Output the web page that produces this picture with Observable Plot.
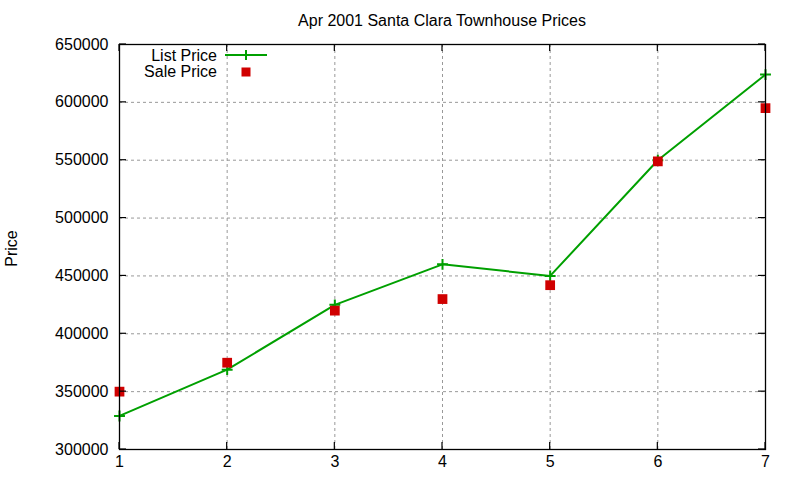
<!DOCTYPE html>
<html>
<head>
<meta charset="utf-8">
<script src="https://cdn.jsdelivr.net/npm/d3@7"></script>
<script src="https://cdn.jsdelivr.net/npm/@observablehq/plot@0.6"></script>
<style>
  html, body { margin: 0; padding: 0; background: #fff; }
  #chart { position: relative; width: 800px; height: 480px; }
  svg { font-family: "Liberation Sans", Arial, sans-serif; }
</style>
</head>
<body>
<div id="chart"></div>
<script>
const title = "Apr 2001 Santa Clara Townhouse Prices";
const yLabel = "Price";
const months = [1, 2, 3, 4, 5, 6, 7];
const listPrice = [329000, 369000, 425000, 460000, 450000, 550000, 624000];
const salePrice = [350000, 375000, 420000, 430000, 442000, 549000, 595000];
const xTicks = [1, 2, 3, 4, 5, 6, 7];
const yTicks = [300000, 350000, 400000, 450000, 500000, 550000, 600000, 650000];
const seriesNames = ["List Price", "Sale Price"];

const listData = months.map((m, i) => ({x: m, y: listPrice[i]}));
const saleData = months.map((m, i) => ({x: m, y: salePrice[i]}));

const green = "#00a000";
const red = "#d00000";

const plot = Plot.plot({
  width: 800,
  height: 480,
  marginLeft: 119,
  marginRight: 35,
  marginTop: 44,
  marginBottom: 31,
  style: {fontFamily: "Liberation Sans, Arial, sans-serif", fontSize: "16px", background: "#fff", color: "#000"},
  x: {domain: [1, 7], ticks: xTicks, label: null},
  y: {domain: [300000, 650000], ticks: yTicks, label: null},
  marks: [
    Plot.gridX(xTicks, {stroke: "#999", strokeOpacity: 1, strokeDasharray: "3,3", strokeWidth: 1}),
    Plot.gridY(yTicks, {stroke: "#999", strokeOpacity: 1, strokeDasharray: "3,3", strokeWidth: 1}),
    Plot.axisX(xTicks, {anchor: "bottom", tickSize: 0, tickPadding: 6, label: null, fontSize: 16, tickFormat: d => String(d)}),
    Plot.axisY(yTicks, {anchor: "left", tickSize: 0, tickPadding: 11, label: null, fontSize: 16, tickFormat: d => String(d)}),
    Plot.line(listData, {x: "x", y: "y", stroke: green, strokeWidth: 2}),
    Plot.dot(listData, {x: "x", y: "y", symbol: "plus", r: 3.6, stroke: green, strokeWidth: 2}),
    Plot.dot(saleData, {x: "x", y: "y", symbol: "square", r: 5.5, fill: red, stroke: "none"}),
    Plot.frame({stroke: "#000", strokeWidth: 1.3})
  ]
});

document.getElementById("chart").appendChild(plot);

// Post-process: inward mirrored ticks, title, y label, legend
const svg = d3.select(plot);
const xs = plot.scale("x"), ys = plot.scale("y");
const x0 = xs.apply(1), x1 = xs.apply(7);
const y0 = ys.apply(300000), y1 = ys.apply(650000);
const tg = svg.append("g").attr("stroke", "#000").attr("stroke-width", 1.2);
yTicks.forEach(v => {
  const y = ys.apply(v);
  tg.append("line").attr("x1", x0).attr("x2", x0 + 7).attr("y1", y).attr("y2", y);
  tg.append("line").attr("x1", x1).attr("x2", x1 - 7).attr("y1", y).attr("y2", y);
});
xTicks.forEach(v => {
  const x = xs.apply(v);
  tg.append("line").attr("x1", x).attr("x2", x).attr("y1", y0).attr("y2", y0 - 7);
  tg.append("line").attr("x1", x).attr("x2", x).attr("y1", y1).attr("y2", y1 + 7);
});

svg.append("text").attr("x", (x0 + x1) / 2).attr("y", 26)
  .attr("text-anchor", "middle").attr("font-size", 16).attr("fill", "#000").text(title);
svg.append("text").attr("transform", `translate(17,${(y0 + y1) / 2 + 2}) rotate(-90)`)
  .attr("text-anchor", "middle").attr("font-size", 16).attr("fill", "#000").text(yLabel);

const lg = svg.append("g");
const lx = x0 + 98, ly = y1 + 11;
lg.append("text").attr("x", lx).attr("y", ly).attr("dy", "0.35em").attr("text-anchor", "end")
  .attr("font-size", 16).attr("fill", "#000").text(seriesNames[0]);
lg.append("line").attr("x1", lx + 8).attr("x2", lx + 50).attr("y1", ly).attr("y2", ly)
  .attr("stroke", green).attr("stroke-width", 2);
lg.append("path").attr("d", d3.symbol(d3.symbolPlus, 36)()).attr("transform", `translate(${lx + 29},${ly})`)
  .attr("fill", "none").attr("stroke", green).attr("stroke-width", 2);
lg.append("text").attr("x", lx).attr("y", ly + 16).attr("dy", "0.35em").attr("text-anchor", "end")
  .attr("font-size", 16).attr("fill", "#000").text(seriesNames[1]);
lg.append("rect").attr("x", lx + 29 - 4.5).attr("y", ly + 17 - 4.5).attr("width", 9).attr("height", 9).attr("fill", red);
</script>
</body>
</html>
